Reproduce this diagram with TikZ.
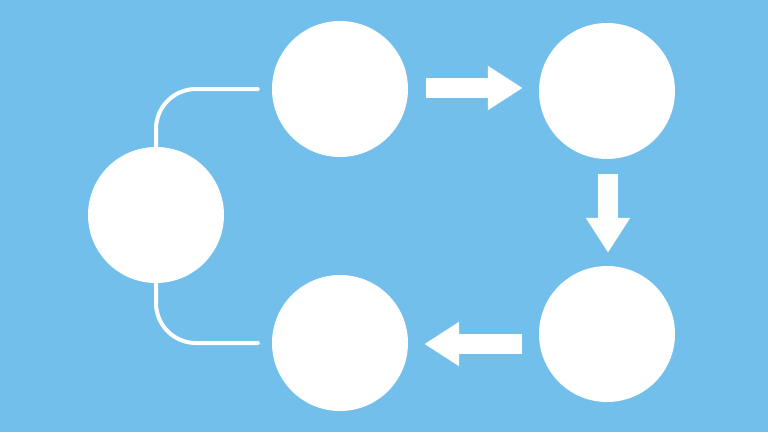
\documentclass[tikz,border=0pt]{standalone}
\usetikzlibrary{arrows.meta}
\definecolor{bgblue}{HTML}{72BFEB}
\begin{document}
\begin{tikzpicture}[x=1pt,y=-1pt,
  disc/.style={circle,fill=white,inner sep=0pt,minimum size=136pt},
  bigarrow/.style={draw=white,line width=20pt,-{Triangle[length=35pt,width=42pt]}},
  link/.style={draw=white,line width=4pt,line cap=round,rounded corners=40pt}]
\fill[bgblue] (0,0) rectangle (768,432);
\useasboundingbox (0,0) rectangle (768,432);
\node[disc] (a) at (156,215) {};
\node[disc] (b) at (340,89) {};
\node[disc] (c) at (607,91) {};
\node[disc] (d) at (607,334) {};
\node[disc] (e) at (340,343) {};
\draw[link,shorten >=14pt] (a.north) |- (b.west);
\draw[link,shorten >=14pt] (a.south) |- (e.west);
\draw[bigarrow] ([xshift=18pt,yshift=1pt]b.east) -- ([xshift=-16pt,yshift=3pt]c.west);
\draw[bigarrow] ([xshift=1pt,yshift=-15pt]c.south) -- ([xshift=1pt,yshift=13pt]d.north);
\draw[bigarrow] ([xshift=-17pt,yshift=-10pt]d.west) -- ([xshift=16pt,yshift=-1pt]e.east);
\end{tikzpicture}
\end{document}
